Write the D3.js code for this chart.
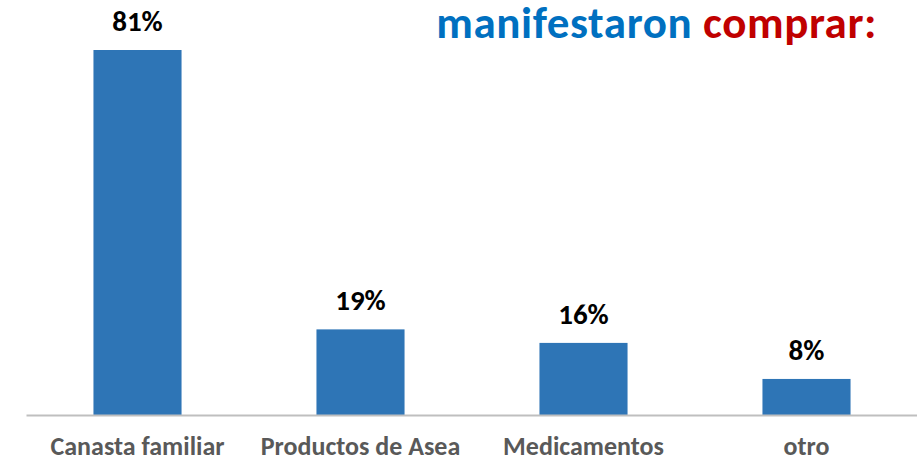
<!DOCTYPE html>
<html>
<head>
<meta charset="utf-8">
<script src="https://cdn.jsdelivr.net/npm/d3@7"></script>
<style>
  body { margin: 0; background: #fff; }
  svg { display: block; }
</style>
</head>
<body>
<div id="bar-chart"></div>
<script>
// Daten
const categories = ["Canasta familiar", "Productos de Asea", "Medicamentos", "otro"];
const values = [81, 19, 16, 8];
const titleParts = ["manifestaron", "comprar:"];

const width = 917;
const height = 461;
const font = "Carlito, Calibri, Lato, 'Open Sans', sans-serif";

const data = categories.map((c, i) => ({ cat: c, val: values[i] }));

const svg = d3.select("#bar-chart")
    .append("svg")
    .attr("width", width)
    .attr("height", height);

// x-Achse: Bandskala über die ganze Breite
const xScale = d3.scaleBand()
    .domain(categories)
    .range([26, 918])
    .paddingInner(0.605)
    .paddingOuter(0.3025);

// y-Achse: Basislinie bei 415
const yScale = d3.scaleLinear()
    .domain([0, 81])
    .range([415, 50]);

svg.selectAll("rect")
    .data(data)
    .join("rect")
    .attr("x", d => xScale(d.cat))
    .attr("y", d => yScale(d.val))
    .attr("width", xScale.bandwidth())
    .attr("height", d => yScale(0) - yScale(d.val))
    .attr("fill", "#2E75B6");

// Grundlinie
const bottomAxis = d3.axisBottom(xScale).tickSize(0).tickPadding(0).tickFormat("");
svg.append("g")
    .attr("class", "axis-x")
    .attr("transform", `translate(0, ${yScale(0)})`)
    .call(bottomAxis)
    .call(g => g.select(".domain").attr("stroke", "#BFBFBF").attr("stroke-width", 2));

// Kategorien
svg.selectAll(".cat-label")
    .data(data)
    .join("text")
    .attr("class", "cat-label")
    .attr("x", d => xScale(d.cat) + xScale.bandwidth() / 2)
    .attr("y", 455)
    .attr("text-anchor", "middle")
    .attr("font-family", font)
    .attr("font-weight", "bold")
    .attr("font-size", 26)
    .attr("fill", "#595959")
    .text(d => d.cat);

// Werte über den Balken
svg.selectAll(".val-label")
    .data(data)
    .join("text")
    .attr("class", "val-label")
    .attr("x", d => xScale(d.cat) + xScale.bandwidth() / 2)
    .attr("y", d => yScale(d.val) - 19)
    .attr("text-anchor", "middle")
    .attr("font-family", font)
    .attr("font-weight", "bold")
    .attr("font-size", 29)
    .attr("fill", "#000")
    .text(d => d.val + "%");

// Titel oben rechts (im Original oben angeschnitten)
const title = svg.append("text")
    .attr("x", 877)
    .attr("y", 38)
    .attr("text-anchor", "end")
    .attr("font-family", font)
    .attr("font-weight", "bold")
    .attr("font-size", 45)
    .attr("letter-spacing", 0.6);
title.append("tspan").attr("fill", "#0070C0").text(titleParts[0] + " ");
title.append("tspan").attr("fill", "#C00000").text(titleParts[1]);
</script>
</body>
</html>
